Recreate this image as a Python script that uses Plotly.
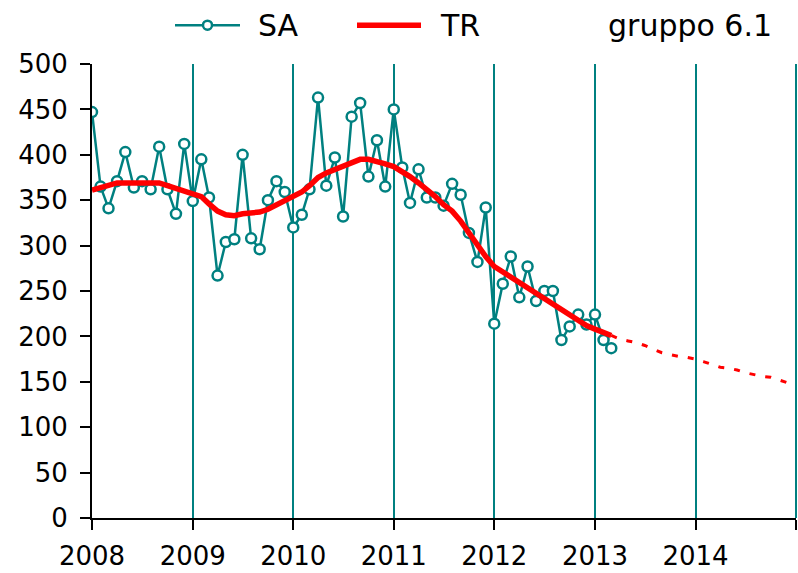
import pandas as pd
import plotly.graph_objects as go

# Monthly seasonally adjusted series (SA), Jan 2008 - Mar 2013
sa_values = [
    447, 365, 341, 371, 403, 364, 371, 362, 409, 362, 335, 412,   # 2008
    349, 395, 353, 267, 304, 307, 400, 308, 296, 350, 371, 359,   # 2009
    320, 334, 362, 463, 366, 397, 332, 442, 457, 376, 416, 365,   # 2010
    450, 386, 347, 384, 353, 353, 344, 368, 356, 314, 282, 342,   # 2011
    214, 258, 288, 243, 277, 239, 250, 250, 196, 211, 224, 213,   # 2012
    224, 196, 187,                                                # 2013
]

# Trend (TR), Jan 2008 - Mar 2013
tr_values = [
    361, 364, 367, 369, 369, 369, 370, 370, 369, 366, 363, 360,
    357, 354, 346, 338, 334, 333, 335, 336, 337, 340, 345, 350,
    354, 359, 366, 375, 380, 384, 388, 392, 395, 395, 393, 390,
    387, 382, 376, 369, 362, 354, 345, 338, 327, 314, 299, 288,
    277, 271, 266, 260, 254, 247, 241, 235, 229, 223, 217, 212,
    208, 204, 201,
]

# Trend projection, Mar 2013 - Dec 2014
tr_forecast = [
    201, 197, 195, 193, 190, 186, 182, 180, 178, 177,
    175, 172, 169, 166, 165, 163, 160, 158, 156, 155, 152, 149,
]

year_labels = ["2008", "2009", "2010", "2011", "2012", "2013", "2014", ""]
y_ticks = list(range(0, 501, 50))

months = pd.date_range("2008-01-01", periods=len(sa_values), freq="MS")
months_fc = pd.date_range("2013-03-01", periods=len(tr_forecast), freq="MS")
year_ticks = [f"{y}-01-01" for y in range(2008, 2016)]

TEAL = "#008080"
RED = "#FF0000"
FONT = "DejaVu Sans"

W, H = 798, 573
M_L, M_R, M_T, M_B = 92, 2, 64, 53
PW, PH = W - M_L - M_R, H - M_T - M_B


def px_x(px):
    """Horizontal page pixel -> paper fraction."""
    return (px - M_L) / PW


def px_y(py):
    """Vertical page pixel (from top) -> paper fraction."""
    return (H - M_B - py) / PH


fig = go.Figure()

fig.add_trace(go.Scatter(
    x=months, y=sa_values, name="SA", mode="lines+markers",
    line=dict(color=TEAL, width=2.5),
    marker=dict(symbol="circle", size=10, color="white",
                line=dict(color=TEAL, width=2.5)),
    showlegend=False,
))

fig.add_trace(go.Scatter(
    x=months, y=tr_values, name="TR", mode="lines",
    line=dict(color=RED, width=5.5),
    showlegend=False,
))

fig.add_trace(go.Scatter(
    x=months_fc, y=tr_forecast, name="TR forecast", mode="lines",
    line=dict(color=RED, width=3, dash="6px,10px"),
    showlegend=False,
))

# Closing year gridline on the right edge of the plot area (end of range)
fig.add_shape(type="line", xref="paper", yref="paper",
              x0=1, x1=1, y0=0, y1=1,
              line=dict(color=TEAL, width=2), layer="below")

# Key drawn above the plot area
LEG_Y = 25
shapes = [
    dict(type="line", xref="paper", yref="paper",
         x0=px_x(175), x1=px_x(240), y0=px_y(LEG_Y), y1=px_y(LEG_Y),
         line=dict(color=TEAL, width=2.5)),
    dict(type="circle", xref="paper", yref="paper",
         x0=px_x(203), x1=px_x(212), y0=px_y(LEG_Y + 4.5), y1=px_y(LEG_Y - 4.5),
         fillcolor="white", line=dict(color=TEAL, width=2.5)),
    dict(type="line", xref="paper", yref="paper",
         x0=px_x(357), x1=px_x(421), y0=px_y(LEG_Y), y1=px_y(LEG_Y),
         line=dict(color=RED, width=5.5)),
]
for s in shapes:
    fig.add_shape(**s)

for label, left in (("SA", 256), ("TR", 438), ("gruppo 6.1", 606)):
    fig.add_annotation(
        text=label, xref="paper", yref="paper",
        x=px_x(left), y=px_y(LEG_Y), xanchor="left", yanchor="middle",
        showarrow=False, font=dict(family=FONT, size=30, color="black"),
    )

fig.update_layout(
    width=W, height=H,
    margin=dict(l=M_L, r=M_R, t=M_T, b=M_B),
    paper_bgcolor="white", plot_bgcolor="white",
    font=dict(family=FONT, size=26, color="black"),
    showlegend=False,
    xaxis=dict(
        type="date",
        range=["2008-01-01", "2015-01-01"],
        tickvals=year_ticks, ticktext=year_labels,
        showgrid=True, gridcolor=TEAL, gridwidth=2,
        showline=True, linecolor="black", linewidth=2,
        ticks="outside", ticklen=10, tickwidth=2, tickcolor="black",
        tickfont=dict(family=FONT, size=26),
        ticklabelstandoff=4,
        zeroline=False,
    ),
    yaxis=dict(
        range=[0, 500], tickvals=y_ticks,
        showgrid=False,
        showline=True, linecolor="black", linewidth=2,
        ticks="outside", ticklen=10, tickwidth=2, tickcolor="black",
        tickfont=dict(family=FONT, size=26),
        ticklabelstandoff=7,
        zeroline=False,
    ),
)

fig.write_html("out.html")
